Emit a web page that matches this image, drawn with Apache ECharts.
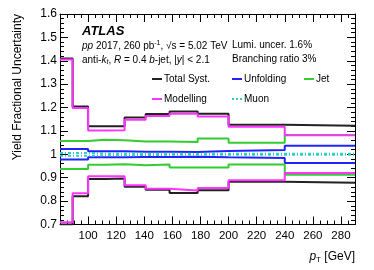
<!DOCTYPE html>
<html><head><meta charset="utf-8">
<script src="https://cdn.jsdelivr.net/npm/echarts@6/dist/echarts.min.js"></script>
<style>html,body{margin:0;padding:0;background:#fff}#c{width:374px;height:270px}</style>
</head><body><div id="c"></div>
<script>
// Bin edges (GeV)
var edges = [80, 89, 100, 112, 126, 141, 158, 178, 200, 240, 290];
// Fractional uncertainty, upper and lower envelopes per bin
var totUp = [1.41, 1.205, 1.12, 1.12, 1.158, 1.172, 1.183, 1.173, 1.127, 1.122];
var totDn = [0.70, 0.821, 0.895, 0.897, 0.861, 0.849, 0.835, 0.846, 0.883, 0.878];
var modUp = [1.405, 1.198, 1.102, 1.103, 1.148, 1.164, 1.174, 1.162, 1.118, 1.082];
var modDn = [0.71, 0.834, 0.906, 0.906, 0.868, 0.853, 0.845, 0.856, 0.889, 0.92];
var jetUp = [1.057, 1.057, 1.062, 1.06, 1.055, 1.055, 1.053, 1.068, 1.05, 1.083];
var jetDn = [0.937, 0.937, 0.955, 0.958, 0.953, 0.957, 0.944, 0.944, 0.956, 0.913];
var unfUp = [1.023, 1.023, 1.013, 1.013, 1.011, 1.011, 1.01, 1.014, 1.018, 1.037];
var unfDn = [0.978, 0.978, 0.987, 0.987, 0.989, 0.989, 0.99, 0.987, 0.984, 0.963];
var muUp = [1.006, 1.006, 1.004, 1.004, 1.003, 1.002, 1.002, 1.002, 1.002, 1.002];
var muDn = [0.994, 0.994, 0.996, 0.996, 0.997, 0.998, 0.998, 0.998, 0.998, 0.998];
var xTicks = [100, 120, 140, 160, 180, 200, 220, 240, 260, 280];
var yTicks = [0.7, 0.8, 0.9, 1, 1.1, 1.2, 1.3, 1.4, 1.5, 1.6];

var FONT = 'Liberation Sans, Arial, Helvetica, sans-serif';
var C_TOT = '#222222', C_MOD = '#ff33ff', C_JET = '#33cc33', C_UNF = '#2222ff', C_MU = '#33cccc';

function hist(vals) {
  var d = [];
  for (var i = 0; i < vals.length; i++) d.push([edges[i], vals[i]]);
  d.push([edges[edges.length - 1], vals[vals.length - 1]]);
  return d;
}
function ser(name, vals, color, type, z) {
  return {
    name: name, type: 'line', step: 'end', data: hist(vals), symbol: 'none',
    lineStyle: { color: color, width: 2, type: type || 'solid' }, z: z, silent: true, animation: false
  };
}

var chart = echarts.init(document.getElementById('c'), null, { renderer: 'canvas' });
var grid = { left: 60, right: 19, top: 14, bottom: 45.5 };
var tickStyle = { color: '#000', width: 1 };
function xAx(pos, labels) {
  return {
    type: 'value', position: pos, min: edges[0], max: edges[edges.length - 1], interval: 20,
    axisLine: { show: true, onZero: false, lineStyle: { color: '#000', width: 1 } },
    axisTick: { show: true, inside: true, length: 8, lineStyle: tickStyle },
    minorTick: { show: true, splitNumber: 4, length: 4, lineStyle: tickStyle },
    splitLine: { show: false },
    axisLabel: {
      show: labels, margin: 5, fontSize: 11.5, color: '#000', fontFamily: FONT,
      showMinLabel: false,
      formatter: function (v) { return xTicks.indexOf(v) >= 0 ? String(v) : ''; }
    }
  };
}
function yAx(pos, labels) {
  return {
    type: 'value', position: pos, min: 0.7, max: 1.6, interval: 0.1,
    axisLine: { show: true, onZero: false, lineStyle: { color: '#000', width: 1 } },
    axisTick: { show: true, inside: true, length: 8, lineStyle: tickStyle },
    minorTick: { show: true, splitNumber: 5, length: 4, lineStyle: tickStyle },
    splitLine: { show: false },
    axisLabel: {
      show: labels, margin: 3, fontSize: 12, color: '#000', fontFamily: FONT,
      formatter: function (v) {
        var r = Math.round(v * 10) / 10;
        for (var i = 0; i < yTicks.length; i++) if (Math.abs(yTicks[i] - r) < 1e-6) return String(yTicks[i]);
        return '';
      }
    }
  };
}

var leg = [
  { x: 152, y: 79, t: 'Total Syst.', c: C_TOT, d: null },
  { x: 232, y: 79, t: 'Unfolding', c: C_UNF, d: null },
  { x: 304, y: 79, t: 'Jet', c: C_JET, d: null },
  { x: 152, y: 99, t: 'Modelling', c: C_MOD, d: null },
  { x: 232, y: 99, t: 'Muon', c: C_MU, d: [2, 2] }
];
var graphics = [];
leg.forEach(function (g) {
  graphics.push({ type: 'line', shape: { x1: g.x, y1: g.y, x2: g.x + 10, y2: g.y },
    style: { stroke: g.c, lineWidth: 2, lineDash: g.d } });
  graphics.push({ type: 'text', x: g.x + 12, y: g.y, style: { text: g.t, font: '10px ' + FONT, fill: '#000', textVerticalAlign: 'middle' } });
});
graphics.push({ type: 'text', x: 82, y: 31, style: { text: 'ATLAS', font: 'italic bold 13px ' + FONT, fill: '#000', textVerticalAlign: 'middle' } });
graphics.push({ type: 'text', x: 82, y: 46, style: {
  text: '{i|pp} 2017, 260 pb{s|-1}, √s = 5.02 TeV', font: '10px ' + FONT, fill: '#000', textVerticalAlign: 'middle',
  rich: { i: { fontStyle: 'italic', fontSize: 10, fontFamily: FONT }, s: { fontSize: 7, fontFamily: FONT, padding: [0, 0, 6, 0] } } } });
graphics.push({ type: 'text', x: 82, y: 60, style: {
  text: 'anti-{i|k}{b|t}, {i|R} = 0.4 {i|b}-jet, |{i|y}| < 2.1', font: '10px ' + FONT, fill: '#000', textVerticalAlign: 'middle',
  rich: { i: { fontStyle: 'italic', fontSize: 10, fontFamily: FONT }, b: { fontStyle: 'italic', fontSize: 7, fontFamily: FONT, padding: [5, 0, 0, 0] } } } });
graphics.push({ type: 'text', x: 232, y: 45, style: { text: 'Lumi. uncer. 1.6%', font: '10px ' + FONT, fill: '#000', textVerticalAlign: 'middle' } });
graphics.push({ type: 'text', x: 232, y: 59, style: { text: 'Branching ratio 3%', font: '10px ' + FONT, fill: '#000', textVerticalAlign: 'middle' } });
graphics.push({ type: 'text', x: 355, y: 257, style: {
  text: '{i|p}{b|T} [GeV]', font: '12px ' + FONT, fill: '#000', textAlign: 'right', textVerticalAlign: 'middle',
  rich: { i: { fontStyle: 'italic', fontSize: 12, fontFamily: FONT }, b: { fontSize: 8, fontFamily: FONT, padding: [6, 0, 0, 0] } } } });
graphics.push({ type: 'text', x: 18, y: 14, rotation: Math.PI / 2, style: {
  text: 'Yield Fractional Uncertainty', font: '12px ' + FONT, fill: '#000', textAlign: 'right', textVerticalAlign: 'middle' } });

chart.setOption({
  animation: false,
  grid: grid,
  xAxis: [xAx('bottom', true), xAx('top', false)],
  yAxis: [yAx('left', true), yAx('right', false)],
  graphic: graphics,
  series: [
    ser('Total Syst.', totUp, C_TOT, 'solid', 2),
    ser('Total Syst.', totDn, C_TOT, 'solid', 2),
    ser('Unfolding', unfUp, C_UNF, 'solid', 3),
    ser('Unfolding', unfDn, C_UNF, 'solid', 3),
    ser('Jet', jetUp, C_JET, 'solid', 4),
    ser('Jet', jetDn, C_JET, 'solid', 4),
    ser('Modelling', modUp, C_MOD, 'solid', 5),
    ser('Modelling', modDn, C_MOD, 'solid', 5),
    ser('Muon', muUp, C_MU, [3, 2, 1, 2], 6),
    ser('Muon', muDn, C_MU, [3, 2, 1, 2], 6)
  ]
});
</script></body></html>
